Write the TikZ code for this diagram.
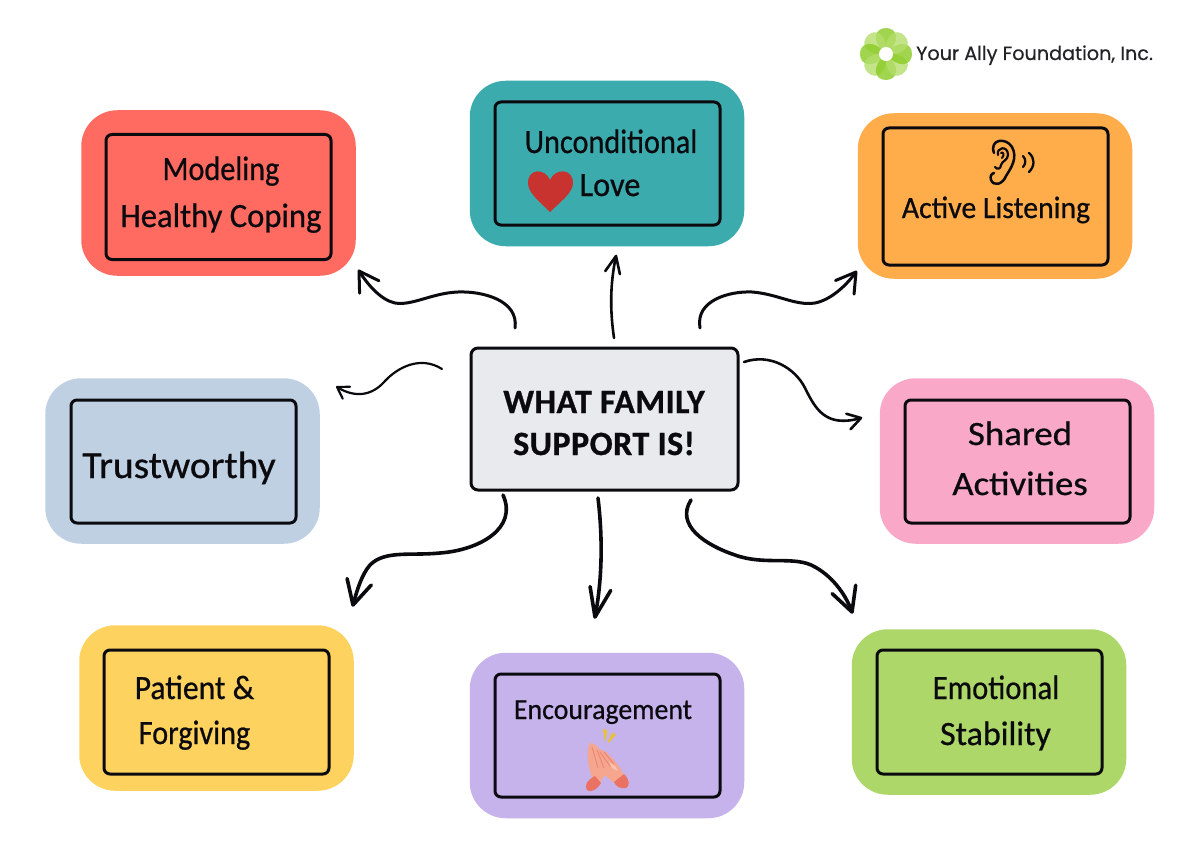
\documentclass[tikz,border=0pt]{standalone}
\usepackage{fontspec}
\usepackage{graphicx}
\usetikzlibrary{arrows.meta}
\setmainfont[FakeBold=0.7]{Carlito}
\newfontfamily\logofont[FakeBold=0.5]{Poppins}
\newfontfamily\titlefont[LetterSpace=1.5,FakeBold=0.8]{Carlito}
\newcommand{\sxb}[2]{\scalebox{#1}[1]{#2}}
\definecolor{cred}{HTML}{FF6B61}
\definecolor{cteal}{HTML}{3CABAE}
\definecolor{corange}{HTML}{FFAC4B}
\definecolor{cblue}{HTML}{BFD0E2}
\definecolor{cpink}{HTML}{F9A8C8}
\definecolor{cyellow}{HTML}{FDD25E}
\definecolor{cpurple}{HTML}{C6B3EC}
\definecolor{cgreen}{HTML}{AED76A}
\definecolor{cgrey}{HTML}{E8EAED}
\definecolor{ink}{HTML}{0B0B0F}
\definecolor{petaldark}{HTML}{8ACB25}
\definecolor{petallight}{HTML}{B4DE6C}
\definecolor{skin}{HTML}{F6A68F}
\definecolor{skinlight}{HTML}{FAC3AE}
\definecolor{skinline}{HTML}{E98672}
\definecolor{cuff}{HTML}{EA7263}
\definecolor{spark}{HTML}{E9C22F}
\definecolor{heart}{HTML}{C8322F}
\pgfdeclarearrow{
  name=HandBarb,
  parameters={\the\pgfarrowlength,\the\pgfarrowwidth},
  setup code={
    \pgfarrowssettipend{0pt}
    \pgfarrowssetlineend{-1pt}
    \pgfarrowssetvisualbackend{-\pgfarrowlength}
    \pgfarrowssetbackend{-\pgfarrowlength}
    \pgfarrowshullpoint{0pt}{0pt}
    \pgfarrowsupperhullpoint{-\pgfarrowlength}{.5\pgfarrowwidth}
    \pgfarrowssavethe\pgfarrowlength
    \pgfarrowssavethe\pgfarrowwidth
  },
  drawing code={
    \pgfsetdash{}{0pt}\pgfsetroundcap\pgfsetroundjoin
    \pgfpathmoveto{\pgfqpoint{-\pgfarrowlength}{.5\pgfarrowwidth}}
    \pgfpathlineto{\pgfpointorigin}
    \pgfpathlineto{\pgfqpoint{-\pgfarrowlength}{-.5\pgfarrowwidth}}
    \pgfusepathqstroke
  },
  defaults={length=18pt,width=22pt}
}
\tikzset{
  x=1pt,y=-1pt,
  outerbox/.style={draw=none,rounded corners=36pt,minimum width=274.5pt,minimum height=165.5pt,inner sep=0pt,anchor=center},
  innerbox/.style={draw=ink,line width=3pt,rounded corners=6pt,minimum width=225pt,minimum height=123pt,inner sep=0pt,anchor=center},
  hubbox/.style={draw=ink,line width=3pt,rounded corners=7pt,fill=cgrey,minimum width=267pt,minimum height=142pt,inner sep=0pt,anchor=center},
  lbl/.style={font=\fontsize{34}{36}\selectfont,text=ink,anchor=base,inner sep=0pt},
  titlelbl/.style={font=\titlefont\bfseries\fontsize{34}{36}\selectfont,text=ink,anchor=base,inner sep=0pt},
  bigarrow/.style={draw=ink,line width=3.6pt,line cap=round,line join=round,-{HandBarb[length=24pt,width=25pt]}},
  midarrow/.style={draw=ink,line width=3pt,line cap=round,line join=round,-{HandBarb[length=19pt,width=23pt]}},
  slimarrow/.style={draw=ink,line width=2.6pt,line cap=round,line join=round,-{HandBarb[length=17pt,width=15pt]}},
  smallarrow/.style={draw=ink,line width=2.4pt,line cap=round,line join=round,-{HandBarb[length=11pt,width=14pt]}},
  iconline/.style={draw=ink,line width=2.5pt,line cap=round,line join=round}
}
\begin{document}
\begin{tikzpicture}
\useasboundingbox (0,0) rectangle (1199,848);
\fill[white] (0,0) rectangle (1199,848);

% panels
\node[outerbox,fill=cred] (modelO) at (218.5,193) {};
\node[innerbox,minimum height=125pt] (modelI) at (218.5,197) {};
\node[outerbox,fill=cteal] (uncondO) at (607,163.5) {};
\node[innerbox] (uncondI) at (607.5,163.5) {};
\node[outerbox,fill=corange] (activeO) at (995,196) {};
\node[innerbox,minimum height=137pt] (activeI) at (995.5,196.5) {};
\node[outerbox,fill=cblue] (trustO) at (182.5,461) {};
\node[innerbox] (trustI) at (183.5,461.5) {};
\node[outerbox,fill=cpink] (sharedO) at (1017,461) {};
\node[innerbox] (sharedI) at (1017.5,461.5) {};
\node[outerbox,fill=cyellow] (patientO) at (216.5,708) {};
\node[innerbox,minimum height=124pt] (patientI) at (216.5,712) {};
\node[outerbox,fill=cpurple] (encO) at (607,735.5) {};
\node[innerbox] (encI) at (607.5,735.5) {};
\node[outerbox,fill=cgreen] (emoO) at (989,712) {};
\node[innerbox,minimum height=124pt] (emoI) at (989.5,712) {};
\node[hubbox] (hub) at (604.5,419) {};

% labels
\node[lbl] (t1a) at (221,180) {\sxb{.89}{Modeling}};
\node[lbl] (t1b) at (221,227) {\sxb{.96}{Healthy Coping}};
\node[lbl] (t2a) at (611,153) {\sxb{.89}{Unconditional}};
\node[lbl] (t2b) at (610,196) {\sxb{.95}{Love}};
\node[lbl,font=\fontsize{31}{33}\selectfont] (t3) at (996,218) {\sxb{.96}{Active Listening}};
\node[lbl,font=\fontsize{38}{40}\selectfont] (t4) at (179,478) {\sxb{1.04}{Trustworthy}};
\node[lbl] (t5a) at (1020,445) {\sxb{1.085}{Shared}};
\node[lbl] (t5b) at (1020,495) {\sxb{1.08}{Activities}};
\node[lbl] (t6a) at (194.5,699) {\sxb{.93}{Patient \&}};
\node[lbl] (t6b) at (194.5,744) {\sxb{.89}{Forgiving}};
\node[lbl,font=\fontsize{29}{31}\selectfont] (t7) at (603,719) {\sxb{.96}{Encouragement}};
\node[lbl] (t8a) at (996,699) {\sxb{.9}{Emotional}};
\node[lbl] (t8b) at (995.5,745) {Stability};
\node[titlelbl] (h1) at (604,413) {WHAT FAMILY};
\node[titlelbl] (h2) at (604,455) {SUPPORT IS!};
\node[font=\logofont\fontsize{19.2}{21}\selectfont,text=ink!90!white,anchor=base west,inner sep=0pt] (logo) at (916,60) {Your Ally Foundation, Inc.};

% connector ends
\coordinate (a1s) at (515,328); \coordinate (a1e) at (359,271);
\coordinate (a2s) at (614,338); \coordinate (a2e) at (616,256);
\coordinate (a3s) at (700,328); \coordinate (a3e) at (856,272);
\coordinate (a4s) at (744,362); \coordinate (a4e) at (861,418);
\coordinate (a5s) at (442,369); \coordinate (a5e) at (337,387);
\coordinate (a6s) at (503,495); \coordinate (a6e) at (353,605);
\coordinate (a7s) at (598,498); \coordinate (a7e) at (595,617);
\coordinate (a8s) at (691,500); \coordinate (a8e) at (852,612);

\path[midarrow] (a1s) .. controls (519,300) and (482,291) .. (458,292) .. controls (432,293) and (412,306) .. (395,303) .. controls (381,300) and (368,285) .. (a1e);
\path[slimarrow] (a2s) .. controls (610,310) and (610,285) .. (a2e);
\path[midarrow] (a3s) .. controls (695,300) and (730,291) .. (752,292) .. controls (778,294) and (795,306) .. (815,303) .. controls (830,300) and (845,287) .. (a3e);
\path[smallarrow,line width=2.6pt,-{HandBarb[length=13pt,width=16pt]}] (a4s) .. controls (770,353) and (795,368) .. (805,388) .. controls (815,408) and (825,428) .. (a4e);
\path[smallarrow,line width=2.2pt] (a5s) .. controls (420,355) and (397,368) .. (385,381) .. controls (372,396) and (355,398) .. (a5e);
\path[bigarrow] (a6s) .. controls (518,528) and (480,550) .. (440,553) .. controls (410,556) and (385,550) .. (370,565) .. controls (362,574) and (357,590) .. (a6e);
\path[bigarrow,-{HandBarb[length=29pt,width=21pt]}] (a7s) .. controls (603,540) and (602,580) .. (a7e);
\path[bigarrow] (a8s) .. controls (675,525) and (705,545) .. (735,555) .. controls (765,566) and (795,555) .. (815,567) .. controls (835,578) and (847,598) .. (a8e);

% heart icon
\fill[heart] (550,212) .. controls (540,202) and (528,193) .. (528,183) .. controls (528,168) and (545,168) .. (550,180) .. controls (555,168) and (573,168) .. (573,183) .. controls (573,193) and (560,202) .. (550,212) -- cycle;

% ear icon
\draw[iconline] (994,153) .. controls (989,139) and (1006,137) .. (1012,147) .. controls (1018,158) and (1011,168) .. (1006,176) .. controls (1003,184) and (994,187) .. (991,180) .. controls (990,176) and (991,174) .. (994,173);
\draw[iconline,line width=2.2pt] (998,155) .. controls (996,147) and (1008,145) .. (1008,155) .. controls (1008,160) and (1002,161) .. (1001,165) .. controls (1001,169) and (997,170) .. (995,167);
\draw[iconline,line width=2pt] (1001,153) .. controls (1003,151) and (1005,155) .. (1002,158);
\draw[iconline,line width=2.3pt] (1023,156) .. controls (1026,159) and (1026,164) .. (1023,167);
\draw[iconline,line width=2.3pt] (1029,153) .. controls (1035,158) and (1035,166) .. (1029,172);

% clapping hands icon
\fill[skin] (590,743) .. controls (596,742) and (600,750) .. (603,758) .. controls (606,766) and (608,770) .. (606,774) -- (597,786) -- (592,778) .. controls (589,768) and (585,752) .. (590,743) -- cycle;
\fill[skin] (594,752) .. controls (598,747) and (606,750) .. (610,756) .. controls (616,762) and (621,768) .. (624,776) -- (616,784) .. controls (606,778) and (596,766) .. (594,752) -- cycle;
\draw[skinline,line width=.9pt,line cap=round] (592,747) -- (598,768) (597,750) -- (604,768) (600,752) -- (610,766) (604,752) -- (614,764);
\fill[skinlight] (609,762) -- (615,766) -- (618,771) -- (612,768) -- cycle;
\fill[cuff] (595,776) -- (601,783) .. controls (597,790) and (590,793) .. (587,790) .. controls (584,786) and (587,780) .. (595,776) -- cycle;
\fill[cuff] (614,782) -- (624,774) .. controls (630,780) and (630,786) .. (626,788) .. controls (621,789) and (616,787) .. (614,782) -- cycle;
\fill[spark] (603,729) -- (607,730) -- (606,740) -- (605,741) -- cycle;
\fill[spark] (612,733) -- (616,734) -- (609,743) -- (608,742) -- cycle;

% logo flower
\foreach \a/\c in {0/petaldark,45/petallight,90/petaldark,135/petallight,180/petaldark,225/petallight,270/petaldark,315/petallight}{
  \fill[\c,fill opacity=.8,rotate around={\a:(886,54)}] (886,54) .. controls (871,42) and (874,28) .. (886,28) .. controls (898,28) and (901,42) .. (886,54) -- cycle;
}
\fill[white] (886,54) circle (7pt);
\end{tikzpicture}
\end{document}
